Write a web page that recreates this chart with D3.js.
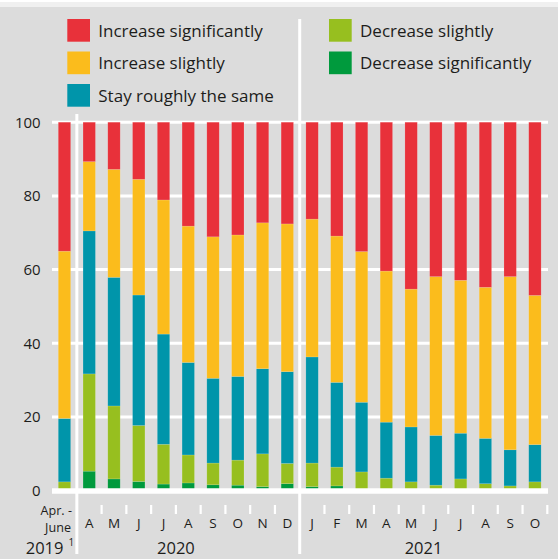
<!DOCTYPE html>
<html>
<head>
<meta charset="utf-8">
<script src="https://cdn.jsdelivr.net/npm/d3@7"></script>
<style>
  body { margin: 0; background: #fff; }
  svg { display: block; font-family: "Open Sans", Lato, sans-serif; }
</style>
</head>
<body>
<svg id="chart" width="558" height="559"></svg>
<script>
// periods on the x axis (2019 Q2, then monthly 2020/2021)
var periods = ["2019Q2", "2020-04", "2020-05", "2020-06", "2020-07", "2020-08", "2020-09", "2020-10", "2020-11", "2020-12",
               "2021-01", "2021-02", "2021-03", "2021-04", "2021-05", "2021-06", "2021-07", "2021-08", "2021-09", "2021-10"];
var monthLabels = ["", "A", "M", "J", "J", "A", "S", "O", "N", "D", "J", "F", "M", "A", "M", "J", "J", "A", "S", "O"];

// shares in %, bottom to top
var decreaseSig   = [0, 5.3, 3.2, 2.5, 1.8, 2.1, 1.6, 1.5, 1.1, 1.9, 1.1, 1.3, 0.2, 0, 0, 0, 0, 0, 0, 0];
var decreaseSl    = [2.4, 26.4, 19.8, 15.2, 10.8, 7.6, 5.9, 6.8, 8.9, 5.5, 6.4, 5.1, 4.9, 3.4, 2.4, 1.5, 3.2, 1.9, 1.3, 2.4];
var staySame      = [17.2, 38.8, 34.9, 35.4, 29.9, 25.1, 23.0, 22.7, 23.1, 24.9, 28.8, 23.0, 18.9, 15.2, 14.9, 13.5, 12.4, 12.3, 9.8, 10.1];
var increaseSl    = [45.4, 18.8, 29.3, 31.4, 36.4, 37.0, 38.4, 38.4, 39.6, 40.1, 37.4, 39.7, 40.9, 41.0, 37.4, 43.1, 41.5, 41.0, 47.0, 40.5];
var increaseSig   = [35.0, 10.7, 12.8, 15.5, 21.1, 28.2, 31.1, 30.6, 27.3, 27.6, 26.3, 30.9, 35.1, 40.4, 45.3, 41.9, 42.9, 44.8, 41.9, 47.0];

var seriesKeys  = ["decSig", "decSl", "same", "incSl", "incSig"];
var seriesNames = ["Decrease significantly", "Decrease slightly", "Stay roughly the same", "Increase slightly", "Increase significantly"];
var seriesColors = ["#009a3d", "#97bf1f", "#0095aa", "#fbbc1c", "#e8313a"];

var yTicks = [0, 20, 40, 60, 80, 100];

// year labels: text and band position (index) they sit under
var years = ["2019", "2020", "2021"];
var yearPos = [0, 4.5, 14.5];

var rows = periods.map(function (p, i) {
    return { period: p, decSig: decreaseSig[i], decSl: decreaseSl[i], same: staySame[i], incSl: increaseSl[i], incSig: increaseSig[i] };
});

var svg = d3.select("#chart");
var W = 558, H = 559;

// background
svg.append("rect").attr("width", W).attr("height", H).attr("fill", "#dcdcdc");
svg.append("rect").attr("width", W).attr("height", 7).attr("fill", "#f0f0f0");
svg.append("rect").attr("width", W).attr("height", 2).attr("fill", "#fff");

var x = d3.scaleBand().domain(periods).range([45.9, 553.5]).paddingInner(0.5).paddingOuter(0.5);
var y = d3.scaleLinear().domain([0, 100]).range([490.7, 122.2]);
var color = d3.scaleOrdinal().domain(seriesKeys).range(seriesColors);
var step = x.step();
var cx = function (i) { return x(periods[0]) + x.bandwidth() / 2 + i * step; };

// gridlines
var gridX0 = 52, gridX1 = 548;
svg.append("g").selectAll("line").data(yTicks.filter(function (d) { return d > 0; })).join("line")
    .attr("x1", gridX0).attr("x2", gridX1)
    .attr("y1", function (d) { return y(d); }).attr("y2", function (d) { return y(d); })
    .attr("stroke", "#fff").attr("stroke-width", 3);

// y tick labels
svg.append("g").selectAll("text").data(yTicks).join("text")
    .attr("x", 40.7).attr("y", function (d) { return y(d); })
    .attr("dy", "0.36em")
    .attr("text-anchor", "end")
    .attr("font-size", 15)
    .attr("fill", "#1d1d1b")
    .text(function (d) { return d; });

// separators between years
var sepIdx = [0, 9];
svg.append("g").selectAll("line").data(sepIdx).join("line")
    .attr("x1", function (i) { return cx(i) + step / 2; })
    .attr("x2", function (i) { return cx(i) + step / 2; })
    .attr("y1", function (i) { return i === 0 ? 114 : 19; })
    .attr("y2", 554)
    .attr("stroke", "#fff").attr("stroke-width", 3);

// stacked bars
var stacked = d3.stack().keys(seriesKeys)(rows);
svg.append("g").selectAll("g").data(stacked).join("g")
    .attr("fill", function (d) { return color(d.key); })
    .selectAll("rect").data(function (d) { return d; }).join("rect")
    .attr("x", function (d) { return x(d.data.period); })
    .attr("width", x.bandwidth())
    .attr("y", function (d) { return y(d[1]); })
    .attr("height", function (d) { return Math.max(0, y(d[0]) - y(d[1])); })
    .attr("stroke", "rgba(255,255,255,0.22)")
    .attr("stroke-width", 0.6);

// zero line
svg.append("line").attr("x1", gridX0).attr("x2", gridX1)
    .attr("y1", y(0) + 0.4).attr("y2", y(0) + 0.4)
    .attr("stroke", "#fff").attr("stroke-width", 5.5);

// small ticks between months
var tickIdx = d3.range(1, periods.length).filter(function (i) { return i !== 9; });
svg.append("g").selectAll("line").data(tickIdx).join("line")
    .attr("x1", function (i) { return cx(i) + step / 2; })
    .attr("x2", function (i) { return cx(i) + step / 2; })
    .attr("y1", 505).attr("y2", 514)
    .attr("stroke", "#fff").attr("stroke-width", 2.2);

// month labels
svg.append("g").selectAll("text").data(monthLabels).join("text")
    .attr("x", function (d, i) { return cx(i); })
    .attr("y", 527.5)
    .attr("text-anchor", "middle")
    .attr("font-size", 13.5)
    .attr("fill", "#1d1d1b")
    .text(function (d) { return d; });

// two-line label for the 2019 quarter
var q = svg.append("g").attr("font-size", 12.6).attr("fill", "#1d1d1b").attr("text-anchor", "end");
q.append("text").attr("x", cx(0) + 7.5).attr("y", 514.6).text("Apr. -");
q.append("text").attr("x", cx(0) + 6.5).attr("y", 532).text("June");

// year labels
var yl = svg.append("g").attr("font-size", 16.5).attr("fill", "#1d1d1b");
yl.selectAll("text").data(years).join("text")
    .attr("x", function (d, i) { return i === 0 ? cx(0) - 1 : cx(yearPos[i]); })
    .attr("y", 554)
    .attr("text-anchor", function (d, i) { return i === 0 ? "end" : "middle"; })
    .text(function (d) { return d; });
yl.append("text").attr("x", cx(0) + 4).attr("y", 546).attr("font-size", 10).text("1");

// legend
var legendOrder = [4, 3, 2, 1, 0];
var lg = svg.append("g").attr("font-size", 17).attr("fill", "#1d1d1b");
var items = lg.selectAll("g").data(legendOrder).join("g")
    .attr("transform", function (k, j) {
        var col = j < 3 ? 0 : 1, row = j < 3 ? j : j - 3;
        return "translate(" + (col === 0 ? 67.3 : 329) + "," + (19 + row * 32.5) + ")";
    });
items.append("rect").attr("width", 22.7).attr("height", 22.7)
    .attr("fill", function (k) { return seriesColors[k]; });
items.append("text").attr("x", 31).attr("y", 17.8)
    .text(function (k) { return seriesNames[k]; });
</script>
</body>
</html>
